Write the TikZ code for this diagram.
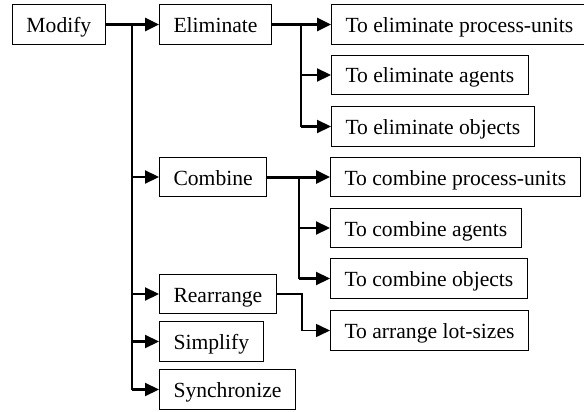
\documentclass[tikz,border=0pt]{standalone}
\usepackage{fontspec}
\setmainfont{Liberation Serif}
\usetikzlibrary{arrows.meta}
\begin{document}
\begin{tikzpicture}[x=1pt,y=-1pt,
  box/.style={draw,line width=1pt,anchor=west,inner xsep=14pt,inner ysep=0pt,
    text height=18pt,text depth=2pt,
    minimum height=39.5pt,font=\fontsize{21.6}{26}\selectfont},
  tip/.style={-{Triangle[length=14pt,width=13pt]}},
  heavy/.style={line width=3pt},
  medium/.style={line width=2.2pt},
  light/.style={line width=1.6pt}]
\useasboundingbox (0,0) rectangle (584,412);
% root and first level
\node[box] (mod) at (12,24.5) {Modify};
\node[box] (eli) at (159,24.5) {Eliminate};
\node[box] (com) at (159,177) {Combine};
\node[box] (rea) at (159,294) {Rearrange};
\node[box] (sim) at (159,341.5) {Simplify};
\node[box] (syn) at (159,389.5) {Synchronize};
% second level
\node[box] (e1) at (331,24.5) {To eliminate process-units};
\node[box] (e2) at (331,75) {To eliminate agents};
\node[box] (e3) at (331,126.5) {To eliminate objects};
\node[box] (c1) at (330,177) {To combine process-units};
\node[box] (c2) at (330,228) {To combine agents};
\node[box] (c3) at (330,278.5) {To combine objects};
\node[box] (lot) at (330,330.5) {To arrange lot-sizes};
% junction points
\coordinate (t0) at (132,24.5);
\coordinate (ej) at (301,24.5);
\coordinate (cj) at (299,177);
\coordinate (rj) at (302,294);
% Modify branch
\draw[heavy,tip] (mod.east) -- (eli.west);
\draw[medium] (t0) -- (t0 |- syn.west);
\draw[medium,tip] (t0 |- com.west) -- (com.west);
\draw[medium,tip] (t0 |- rea.west) -- (rea.west);
\draw[medium,tip] (t0 |- sim.west) -- (sim.west);
\draw[medium,tip] (t0 |- syn.west) -- (syn.west);
% Eliminate branch
\draw[heavy,tip] (eli.east) -- (e1.west);
\draw[medium] (ej) -- (ej |- e3.west);
\draw[medium,tip] (ej |- e2.west) -- (e2.west);
\draw[medium,tip] (ej |- e3.west) -- (e3.west);
% Combine branch
\draw[heavy,tip] (com.east) -- (c1.west);
\draw[medium] (cj) -- (cj |- c3.west);
\draw[medium,tip] (cj |- c2.west) -- (c2.west);
\draw[medium,tip] (cj |- c3.west) -- (c3.west);
% Rearrange branch
\draw[light,tip] (rea.east) -- (rj) |- (lot.west);
\end{tikzpicture}
\end{document}
